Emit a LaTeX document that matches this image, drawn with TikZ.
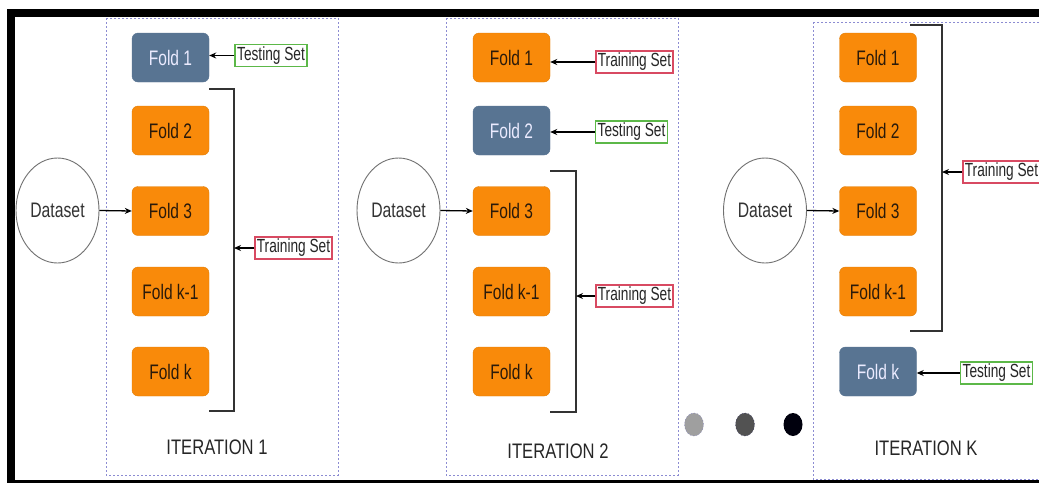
\documentclass[tikz,border=0pt]{standalone}
\usepackage{fontspec}
\usepackage{graphicx}
\usetikzlibrary{arrows.meta,shapes.geometric}
\setmainfont{Liberation Sans}
\newcommand\foldtxt[1]{\scalebox{0.74}[1]{#1}}
\newcommand\lbltxt[1]{\scalebox{0.72}[1]{#1}}
\newcommand\dstxt[1]{\scalebox{0.75}[1]{#1}}
\newcommand\ittxt[1]{\scalebox{0.79}[1]{#1}}
\definecolor{foldorange}{HTML}{F98A0A}
\definecolor{foldorangeline}{HTML}{E07E08}
\definecolor{foldblue}{HTML}{587492}
\definecolor{testgreen}{HTML}{5CB848}
\definecolor{trainred}{HTML}{D84A62}
\definecolor{boxdot}{HTML}{8C8CD2}
\definecolor{foldtext}{HTML}{2A1A0A}
\definecolor{dsline}{HTML}{707070}
\tikzset{
  foldbox/.style={rounded corners=6pt, minimum width=77pt, minimum height=49pt, inner sep=0pt,
    font={\fontsize{21}{24}\selectfont}},
  trainfold/.style={foldbox, fill=foldorange, draw=foldorangeline, text=foldtext},
  testfold/.style={foldbox, fill=foldblue, draw=foldblue, text=white!92!blue},
  lbl/.style={inner sep=0pt, minimum height=22pt, font={\fontsize{19}{22}\selectfont}, text=black!85},
  testlbl/.style={lbl, draw=testgreen, line width=1.3pt, minimum width=72pt},
  trainlbl/.style={lbl, draw=trainred, line width=1.3pt, minimum width=77pt},
  dataset/.style={ellipse, draw=dsline, line width=0.9pt, minimum width=83pt, minimum height=105pt,
    inner sep=0pt, font={\fontsize{21}{24}\selectfont}, text=black!80},
  iterbox/.style={draw=boxdot, line width=0.9pt, dash pattern=on 2pt off 2pt},
  itertext/.style={font={\fontsize{21}{26}\selectfont}, text=black!85},
  conn/.style={line width=1.3pt, black, -{Stealth[length=7pt,width=6pt]}},
  brack/.style={line width=1.6pt, black!80},
  dot/.style={ellipse, minimum width=19pt, minimum height=23pt, inner sep=0pt}
}
\begin{document}
\begin{tikzpicture}[x=1pt,y=-1pt]
\useasboundingbox (0,0) rectangle (1039,483);
\clip (0,0) rectangle (1039,483);
\fill[white] (0,0) rectangle (1039,483);
% frame
\fill[black] (7,9) rectangle (1039,17);
\fill[black] (7,9) rectangle (15,483);
\fill[black] (7,479.5) rectangle (1039,483);

% ---------- Iteration 1 ----------
\draw[iterbox] (106,18) rectangle (338,475);
\node[testfold]  (a1) at (170.5,57.5) {\foldtxt{Fold 1}};
\node[trainfold] (a2) at (170.5,130.5) {\foldtxt{Fold 2}};
\node[trainfold] (a3) at (170.5,211) {\foldtxt{Fold 3}};
\node[trainfold] (a4) at (170.5,291.5) {\foldtxt{Fold k-1}};
\node[trainfold] (a5) at (170.5,371.5) {\foldtxt{Fold k}};
\node[dataset] (ds1) at (57.5,210.5) {\dstxt{Dataset}};
\node[testlbl] (te1) at (271,55.5) {\lbltxt{Testing Set}};
\node[trainlbl] (tr1) at (293.5,248) {\lbltxt{Training Set}};
\node[itertext] (it1) at (217,447) {\ittxt{ITERATION 1}};
\coordinate (b1a) at (209,89);
\coordinate (b1b) at (234,89);
\coordinate (b1c) at (234,411);
\coordinate (b1d) at (209,411);
\draw[brack] (b1a) -- (b1b) -- (b1c) -- (b1d);
\draw[conn] (ds1.east) -- (a3.west);
\draw[conn] (te1.west) -- (te1.west -| a1.east);
\draw[conn] (tr1.west) -- (tr1.west -| b1b);

% ---------- Iteration 2 ----------
\draw[iterbox] (446,18) rectangle (678,475);
\node[trainfold] (c1) at (511.5,57.5) {\foldtxt{Fold 1}};
\node[testfold]  (c2) at (511.5,130.5) {\foldtxt{Fold 2}};
\node[trainfold] (c3) at (511.5,211) {\foldtxt{Fold 3}};
\node[trainfold] (c4) at (511.5,291.5) {\foldtxt{Fold k-1}};
\node[trainfold] (c5) at (511.5,371.5) {\foldtxt{Fold k}};
\node[dataset] (ds2) at (398.5,210.5) {\dstxt{Dataset}};
\node[trainlbl] (tr2a) at (634.5,62) {\lbltxt{Training Set}};
\node[testlbl] (te2) at (631.5,132) {\lbltxt{Testing Set}};
\node[trainlbl] (tr2b) at (634.5,296) {\lbltxt{Training Set}};
\node[itertext] (it2) at (558,451) {\ittxt{ITERATION 2}};
\coordinate (b2a) at (550,171);
\coordinate (b2b) at (576,171);
\coordinate (b2c) at (576,412);
\coordinate (b2d) at (550,412);
\draw[brack] (b2a) -- (b2b) -- (b2c) -- (b2d);
\draw[conn] (ds2.east) -- (c3.west);
\draw[conn] (tr2a.west) -- (tr2a.west -| c1.east);
\draw[conn] (te2.west) -- (te2.west -| c2.east);
\draw[conn] (tr2b.west) -- (tr2b.west -| b2b);

% ---------- dots ----------
\node[dot, fill=gray!75, draw=boxdot!70!gray, dash pattern=on 1.5pt off 1.5pt] (d1) at (694,424.5) {};
\node[dot, fill=black!68, draw=boxdot!50!black, dash pattern=on 1.5pt off 1.5pt] (d2) at (745,424.5) {};
\node[dot, fill=black!95!blue] (d3) at (793,424.5) {};

% ---------- Iteration K ----------
\draw[iterbox] (813,22) rectangle (1045,479);
\node[trainfold] (e1) at (878,57.5) {\foldtxt{Fold 1}};
\node[trainfold] (e2) at (878,130.5) {\foldtxt{Fold 2}};
\node[trainfold] (e3) at (878,211) {\foldtxt{Fold 3}};
\node[trainfold] (e4) at (878,291.5) {\foldtxt{Fold k-1}};
\node[testfold]  (e5) at (878,371.5) {\foldtxt{Fold k}};
\node[dataset] (ds3) at (765,210.5) {\dstxt{Dataset}};
\node[trainlbl] (tr3) at (1001.5,172) {\lbltxt{Training Set}};
\node[testlbl] (te3) at (996.5,373) {\lbltxt{Testing Set}};
\node[itertext] (it3) at (926,448) {\ittxt{ITERATION K}};
\coordinate (b3a) at (910,25);
\coordinate (b3b) at (942,25);
\coordinate (b3c) at (942,331);
\coordinate (b3d) at (910,331);
\draw[brack] (b3a) -- (b3b) -- (b3c) -- (b3d);
\draw[conn] (ds3.east) -- (e3.west);
\draw[conn] (tr3.west) -- (tr3.west -| b3b);
\draw[conn] (te3.west) -- (te3.west -| e5.east);
\end{tikzpicture}
\end{document}
